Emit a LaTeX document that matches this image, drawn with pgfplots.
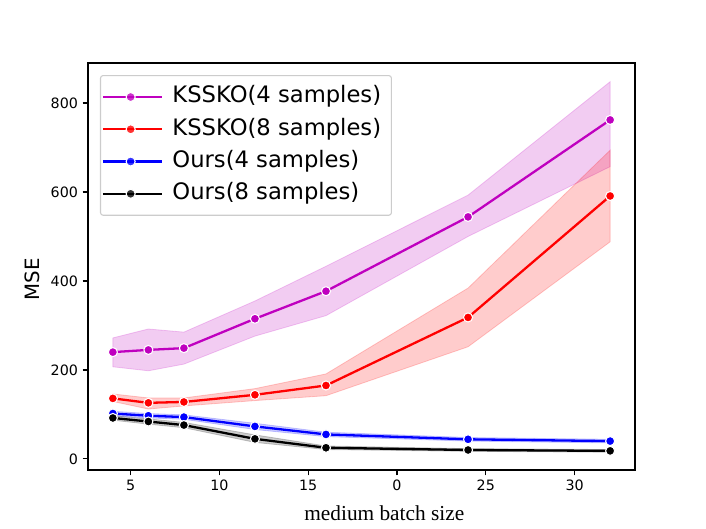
\documentclass[border=0pt]{standalone}
\usepackage{pgfplots}
\pgfplotsset{compat=1.18}
\usepackage{fontspec}
\setmainfont{DejaVu Sans}
\newfontfamily\serifx{Liberation Serif}
\definecolor{colM}{rgb}{0.75,0,0.75}
\definecolor{colR}{rgb}{1,0,0}
\definecolor{colB}{rgb}{0,0,1}
\definecolor{colK}{rgb}{0,0,0}
\definecolor{lgedge}{rgb}{0.8,0.8,0.8}
\begin{document}
\begin{tikzpicture}
\path[use as bounding box] (-66bp,-44.25bp) rectangle (463.5bp,352.5bp);
\begin{axis}[
  scale only axis, width=410.25bp, height=305.25bp,
  at={(0,0)}, anchor=south west,
  xmin=2.6, xmax=33.4, ymin=-25, ymax=890,
  xtick={5,10,15,20,25,30}, xticklabels={5,10,15,0,25,30},
  ytick={0,200,400,600,800},
  xtick pos=bottom, ytick pos=left,
  tick align=outside,
  major tick length=4bp,
  every tick/.style={black, line width=0.92bp},
  axis line style={line width=0.92bp},
  ticklabel style={font=\fontsize{10.7bp}{12bp}\selectfont},
  /pgf/number format/assume math mode=true,
  every axis y label/.style={at={(axis description cs:-0.1024,0.469)}, rotate=90, anchor=center, font=\fontsize{14.8bp}{16bp}\selectfont},
  every axis x label/.style={at={(axis description cs:0.5417,0)}, anchor=base, yshift=-37.5bp, font=\serifx\fontsize{16bp}{18bp}\selectfont},
  xlabel={medium batch size},
  ylabel={MSE},
  legend style={at={(0.0219,0.9705)}, anchor=north west, draw=lgedge, line width=0.8bp, rounded corners=2bp, fill=white, fill opacity=0.8, text opacity=1, draw opacity=1,
    font=\fontsize{17bp}{20bp}\selectfont, inner xsep=1bp, inner ysep=4bp,
    nodes={inner xsep=6.75bp, inner ysep=3.6bp, text height=12.9bp, text depth=4.1bp}},
  legend cell align=left,
  legend image code/.code={\path (0bp,0bp) -- (44.5bp,0bp);
    \draw[#1,mark repeat=2,mark phase=2] plot coordinates {(3.75bp,0bp) (20.75bp,0bp) (37.75bp,0bp)};},
  every axis plot/.append style={line width=1.72bp, mark=*, mark size=3.4bp},
]
% KSSKO 4
\addplot[fill=colM, fill opacity=0.2, draw=colM, draw opacity=0.2, line width=0.6bp, mark=none, forget plot] coordinates {
 (4,272) (6,292) (8,285) (12,355) (16,433) (24,593) (32,848)
 (32,657) (24,500) (16,322) (12,276) (8,213) (6,198) (4,207) (4,272)};
\addplot[colM, mark options={fill=colM, draw=white, line width=0.8bp}] coordinates {
 (4,240) (6,245) (8,249) (12,315) (16,377) (24,544) (32,762)};
\addlegendentry{KSSKO(4 samples)}
% KSSKO 8
\addplot[fill=colR, fill opacity=0.2, draw=colR, draw opacity=0.2, line width=0.6bp, mark=none, forget plot] coordinates {
 (4,146) (6,137) (8,137) (12,158) (16,191) (24,384) (32,694)
 (32,488) (24,252) (16,142) (12,131) (8,119) (6,112) (4,129) (4,146)};
\addplot[colR, mark options={fill=colR, draw=white, line width=0.8bp}] coordinates {
 (4,136) (6,126) (8,128) (12,144) (16,165) (24,318) (32,591)};
\addlegendentry{KSSKO(8 samples)}
% Ours 4
\addplot[fill=colB, fill opacity=0.2, draw=colB, draw opacity=0.2, line width=0.6bp, mark=none, forget plot] coordinates {
 (4,107) (6,102) (8,99) (12,80) (16,60) (24,48) (32,44)
 (32,36) (24,40) (16,50) (12,66) (8,89) (6,92) (4,97) (4,107)};
\addplot[colB, mark options={fill=colB, draw=white, line width=0.8bp}] coordinates {
 (4,102) (6,97) (8,94) (12,73) (16,55) (24,44) (32,40)};
\addlegendentry{Ours(4 samples)}
% Ours 8
\addplot[fill=colK, fill opacity=0.2, draw=colK, draw opacity=0.2, line width=0.6bp, mark=none, forget plot] coordinates {
 (4,97) (6,90) (8,82) (12,54) (16,29) (24,23) (32,21)
 (32,15) (24,17) (16,21) (12,37) (8,70) (6,78) (4,87) (4,97)};
\addplot[colK, mark options={fill=colK, draw=white, line width=0.8bp}] coordinates {
 (4,92) (6,84) (8,76) (12,45) (16,25) (24,20) (32,18)};
\addlegendentry{Ours(8 samples)}
\end{axis}
\end{tikzpicture}
\end{document}
